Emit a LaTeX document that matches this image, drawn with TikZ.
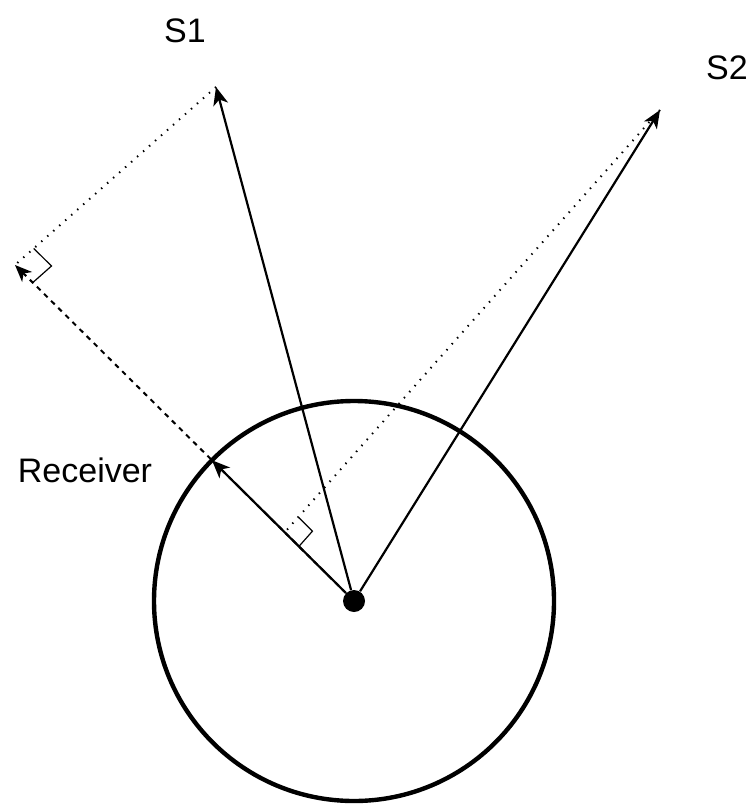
\documentclass[tikz,border=0pt]{standalone}
\usepackage{fontspec}
\setmainfont{Liberation Sans}
\usetikzlibrary{calc,arrows.meta}

\begin{document}
\begin{tikzpicture}[x=0.5pt, y=-0.5pt,
  vec/.style={line width=1.1pt, -{Stealth[length=9pt, width=7.5pt, inset=2.5pt]}},
  proj/.style={line width=1pt, dash pattern=on 2.5pt off 2.5pt,
               -{Stealth[length=8.5pt, width=7pt, inset=2.5pt]}},
  perp/.style={line width=1pt, dash pattern=on 0.7pt off 3.3pt},
  rightangle/.style={line width=0.6pt},
  hub/.style={circle, fill, inner sep=0pt, minimum size=11pt},
  lbl/.style={font=\fontsize{17}{19}\selectfont, inner sep=0pt},
  ]
  \useasboundingbox (0,0) rectangle (750,812);
  \node[hub] (O) at (354,601) {};
  \coordinate (S1) at (216,87);
  \coordinate (S2) at (660,110);
  \coordinate (P1) at (15,265);
  \coordinate (P2) at (285,532);
  \coordinate (R) at ($(O)!100pt!(P1)$);
  % receiver
  \draw[line width=2.2pt] (O.center) circle[radius=100pt];
  % projections
  \draw[perp] (S1) -- (P1);
  \draw[perp] (S2) -- (P2);
  \draw[proj] (O) -- (P1);
  % right angles
  \coordinate (a1) at ($(P1)!12.5pt!(S1)$);
  \coordinate (b1) at ($(P1)!12.5pt!(O)$);
  \draw[rightangle] (a1) -- ($(a1)+(b1)-(P1)$) -- (b1);
  \coordinate (a2) at ($(P2)!10pt!(S2)$);
  \coordinate (b2) at ($(P2)!10pt!(O)$);
  \draw[rightangle] (a2) -- ($(a2)+(b2)-(P2)$) -- (b2);
  % vectors
  \draw[vec] (O) -- (R);
  \draw[vec] (O) -- (S1);
  \draw[vec] (O) -- (S2);
  \node[lbl] (s1lbl) at (185,31) {S1};
  \node[lbl] (s2lbl) at (727,68) {S2};
  \node[lbl] (rcv) at (85,470) {Receiver};
\end{tikzpicture}
\end{document}
